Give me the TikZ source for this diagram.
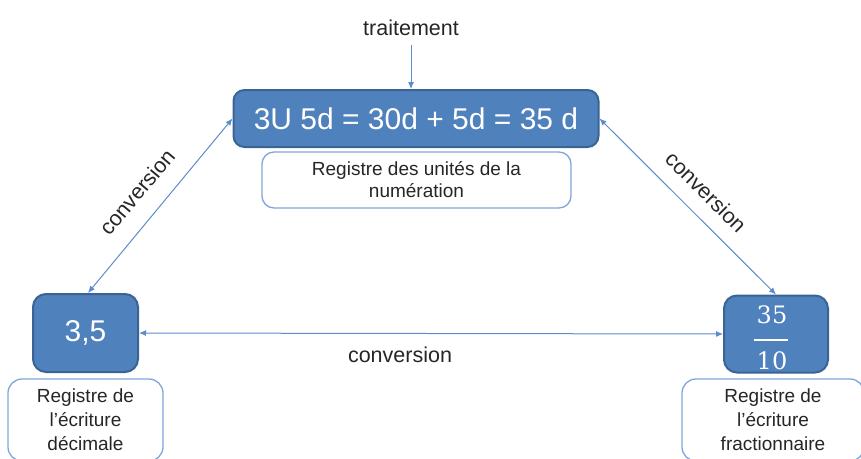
\documentclass[tikz,border=0pt]{standalone}
\usepackage{fontspec}
\setmainfont{Liberation Sans}
\newfontfamily\fracfont{DejaVu Serif}
\usetikzlibrary{arrows.meta}

\definecolor{boxfill}{HTML}{4F81BD}
\definecolor{boxline}{HTML}{3B6393}
\definecolor{tagline}{HTML}{7FA6D8}
\definecolor{linkcol}{HTML}{5B8CCB}
\definecolor{inkcol}{HTML}{262626}

\tikzset{
  valuebox/.style={draw=boxline, fill=boxfill, line width=2pt, rounded corners=11pt,
    text=white, inner sep=0pt, anchor=center},
  tagbox/.style={draw=tagline, fill=white, line width=1.3pt, rounded corners=12pt,
    text=inkcol, inner sep=0pt, align=center, anchor=center},
  link/.style={draw=linkcol, line width=1pt,
    {Latex[length=7pt,width=6pt]}-{Latex[length=7pt,width=6pt]}},
  oneway/.style={draw=linkcol, line width=1pt, -{Latex[length=7pt,width=6pt]}},
  caption/.style={text=inkcol, font=\fontsize{21.5}{26}\selectfont, inner sep=0pt}
}

\begin{document}
\begin{tikzpicture}[x=1pt, y=-1pt]
  \useasboundingbox (0,0) rectangle (861,458);
  \clip (0,0) rectangle (861,458);

  % value boxes
  \node[valuebox, minimum width=365pt, minimum height=57pt,
        font=\fontsize{30}{34}\selectfont] (top) at (416,118.5)
        {3U 5d = 30d + 5d = 35 d};
  \node[valuebox, minimum width=105pt, minimum height=78pt, rounded corners=13pt,
        font=\fontsize{30}{34}\selectfont] (dec) at (85.5,333) {3,5};
  \node[valuebox, minimum width=104pt, minimum height=77pt, rounded corners=13pt]
        (frac) at (776,334) {};
  \node[text=white, font=\fracfont\fontsize{24}{26}\selectfont, inner sep=0pt,
        anchor=base] (num) at (772,323) {35};
  \node[text=white, font=\fracfont\fontsize{24}{26}\selectfont, inner sep=0pt,
        anchor=base] (den) at (772,369) {10};
  \draw[white, line width=2pt] (754,340) -- (788,340);

  % register labels
  \node[tagbox, minimum width=309pt, minimum height=56pt,
        font=\fontsize{19}{22}\selectfont] (toptag) at (416.5,180)
        {Registre des unités de la\\numération};
  \node[tagbox, minimum width=155pt, minimum height=82pt, rounded corners=14pt,
        font=\fontsize{19}{24}\selectfont] (dectag) at (85.5,420)
        {Registre de\\l’écriture\\décimale};
  \node[tagbox, minimum width=182pt, minimum height=82pt, rounded corners=14pt,
        font=\fontsize{19}{24}\selectfont] (fractag) at (773,420)
        {Registre de\\l’écriture\\fractionnaire};

  % treatment arrow
  \node[caption] (trait) at (411,28) {traitement};
  \coordinate (tin) at (411,45);
  \draw[oneway] (tin) -- (tin |- top.north);

  % conversions
  \draw[link] (top.west) -- ([xshift=2.5pt]dec.north);
  \draw[link] (top.east) -- (frac.north);
  \draw[link] (dec.east) -- (frac.west);

  \node[caption, rotate=50] (convl) at (137,192) {conversion};
  \node[caption, rotate=-45] (convr) at (706,192) {conversion};
  \node[caption] (convh) at (400,355) {conversion};
\end{tikzpicture}
\end{document}
